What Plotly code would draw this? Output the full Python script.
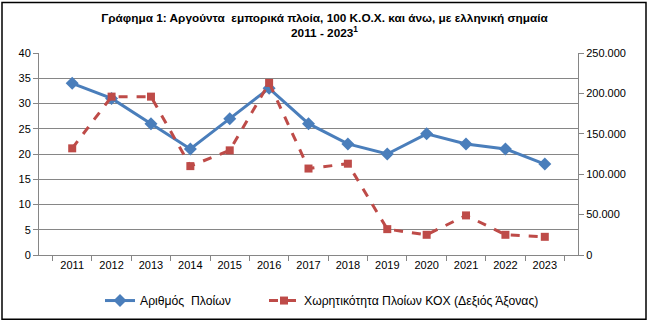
import plotly.graph_objects as go

years = ["2011","2012","2013","2014","2015","2016","2017","2018","2019","2020","2021","2022","2023"]
ships = [34, 31, 26, 21, 27, 33, 26, 22, 20, 24, 22, 21, 18]
capacity = [132000, 196000, 196000, 110000, 129500, 213000, 107000, 113000, 32000, 25000, 49000, 25000, 22500]

name_ships = "Αριθμός  Πλοίων"
name_cap = "Χωρητικότητα Πλοίων ΚΟΧ (Δεξιός Άξονας)"

FONT = "Liberation Sans"
fig = go.Figure()
fig.add_trace(go.Scatter(x=years, y=ships, name=name_ships, mode="lines+markers",
                         line=dict(color="#4A7EBB", width=3),
                         marker=dict(symbol="diamond", size=10, color="#4A7EBB"),
                         legend="legend"))
fig.add_trace(go.Scatter(x=years, y=capacity, name=name_cap, mode="lines+markers", yaxis="y2",
                         line=dict(color="#BE4B48", width=3, dash="dash"),
                         marker=dict(symbol="square", size=8, color="#BE4B48"),
                         legend="legend2"))

W, H = 649, 327
L, R, T, B = 39, 578, 53, 257
pw, ph = R - L, B - T
def px(x): return (x - L) / pw
def py(y): return (B - y) / ph

leg_common = dict(orientation="h", xanchor="left", y=py(303), yanchor="middle",
                  font=dict(size=12.2), bgcolor="rgba(0,0,0,0)")

fig.update_layout(
    width=W, height=H,
    margin=dict(l=L, r=W - R, t=T, b=H - B),
    paper_bgcolor="white", plot_bgcolor="white",
    separators=",.",
    font=dict(family=FONT, size=11, color="#000"),
    title=dict(text="<b>Γράφημα 1: Αργούντα  εμπορικά πλοία, 100 Κ.Ο.Χ. και άνω, με ελληνική σημαία<br>2011 - 2023<sup>1</sup></b>",
               x=0.5, xanchor="center", y=1 - 22 / H, yanchor="top",
               font=dict(family=FONT, size=11.8, color="#000")),
    xaxis=dict(type="category", showgrid=False, showline=True, linecolor="#868686",
               ticks="outside", tickson="boundaries", ticklen=5, tickcolor="#868686",
               tickfont=dict(size=11), zeroline=False),
    yaxis=dict(range=[0, 40], dtick=5, showgrid=True, gridcolor="#868686", gridwidth=1,
               showline=True, linecolor="#868686", ticks="outside", ticklen=5,
               tickcolor="#868686", zeroline=False, tickfont=dict(size=11)),
    yaxis2=dict(range=[0, 250000], dtick=50000, overlaying="y", side="right",
                showgrid=False, showline=True, linecolor="#868686", ticks="outside",
                ticklen=5, tickcolor="#868686", tickformat=",", zeroline=False,
                tickfont=dict(size=11)),
    legend=dict(x=px(100), **leg_common),
    legend2=dict(x=px(264), **leg_common),
    showlegend=True,
)
fig.add_shape(type="rect", xref="paper", yref="paper",
              x0=px(2), x1=px(646), y0=py(322), y1=py(2),
              line=dict(color="#000", width=1.5), fillcolor="rgba(0,0,0,0)", layer="below")
fig.write_html("out.html")
